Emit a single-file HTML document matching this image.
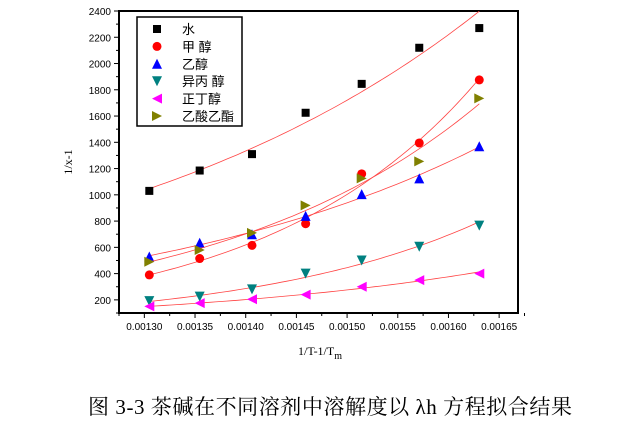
<!DOCTYPE html>
<html><head><meta charset="utf-8"><style>
body{margin:0;background:#fff;width:633px;height:425px;overflow:hidden}
svg{display:block;font-family:"Liberation Sans",sans-serif}
</style></head><body>
<svg id="c" width="633" height="425">
<g id="plot"></g>
<text x="72" y="162" transform="rotate(-90 72 162)" text-anchor="middle" font-family="Liberation Serif,serif" font-size="12">1/x-1</text>
<text x="298" y="355" font-family="Liberation Serif,serif" font-size="12">1/T-1/T<tspan font-size="10" dy="4">m</tspan></text>
<text x="88" y="414" textLength="484" lengthAdjust="spacing" font-family="'Liberation Serif','Noto Serif CJK SC',serif" font-size="21">图 3-3 茶碱在不同溶剂中溶解度以 λh 方程拟合结果</text>
</svg>
<script>
const xs=[0.0013049,0.0013546,0.0014062,0.0014591,0.0015144,0.0015712,0.0016304];
const water=[1030,1185,1310,1625,1845,2120,2270];
const methanol=[390,515,615,780,1160,1395,1875];
const ethanol=[530,635,700,840,1005,1125,1370];
const isopropanol=[190,225,280,400,500,605,765];
const butanol=[150,175,205,240,300,350,400];
const ethylAcetate=[490,580,710,920,1125,1255,1735];
const yTicks=[200,400,600,800,1000,1200,1400,1600,1800,2000,2200,2400];
const xTicks=["0.00130","0.00135","0.00140","0.00145","0.00150","0.00155","0.00160","0.00165"];
const names=["水","甲  醇","乙醇","异丙 醇","正丁醇","乙酸乙酯"];

const L=119,R=518,T=11,B=313,xmin=0.001275,xmax=0.0016686,ymin=100,ymax=2400;
const X=v=>L+(v-xmin)/(xmax-xmin)*(R-L);
const Y=v=>B-(v-ymin)/(ymax-ymin)*(B-T);
const NS="http://www.w3.org/2000/svg";
const g=document.getElementById('plot');
function el(t,a,p){const e=document.createElementNS(NS,t);for(const k in a)e.setAttribute(k,a[k]);(p||g).appendChild(e);return e;}
let e=el('rect',{x:L,y:T,width:R-L,height:B-T,fill:'none',stroke:'#000','stroke-width':2});

yTicks.forEach(v=>{const y=Y(v);el('line',{x1:L-5,x2:L,y1:y,y2:y,stroke:'#000'});
el('line',{x1:L-3,x2:L,y1:Y(v-100),y2:Y(v-100),stroke:'#000'});
const t=el('text',{x:L-8,y:y+4,'text-anchor':'end','font-size':10});t.textContent=v;
});
xTicks.forEach(s=>{const v=parseFloat(s),x=X(v);el('line',{x1:x,x2:x,y1:B,y2:B+5,stroke:'#000'});
el('line',{x1:X(v-0.000025),x2:X(v-0.000025),y1:B,y2:B+3,stroke:'#000'});
const t=el('text',{x:x,y:B+17,'text-anchor':'middle','font-size':10});t.textContent=s;
});
el('line',{x1:X(0.001675),x2:X(0.001675),y1:B,y2:B+3,stroke:'#000'});
function fit(ys){ // exponential least squares in log space
 const n=xs.length,u=xs.map(x=>(x-0.00146)*1e4),l=ys.map(Math.log);
 const mu=u.reduce((a,b)=>a+b)/n,ml=l.reduce((a,b)=>a+b)/n;
 let sxy=0,sxx=0;u.forEach((x,i)=>{sxy+=(x-mu)*(l[i]-ml);sxx+=(x-mu)**2;});
 const b=sxy/sxx,a=ml-b*mu;
 return x=>Math.exp(a+b*(x-0.00146)*1e4);
}
const series=[[water,'#000','sq'],[methanol,'#f00','ci'],[ethanol,'#00f','up'],[isopropanol,'#008080','dn'],[butanol,'#f0f','lf'],[ethylAcetate,'#808000','rt']];
function mark(type,x,y,c,name){let m;const s=5;
 if(type=='sq')m=el('rect',{x:x-4,y:y-4,width:8,height:8,fill:c});
 else if(type=='ci')m=el('circle',{cx:x,cy:y,r:4.5,fill:c});
 else{const p={up:[[0,-s],[s,s],[-s,s]],dn:[[0,s],[s,-s],[-s,-s]],lf:[[-s,0],[s,-s],[s,s]],rt:[[s,0],[-s,-s],[-s,s]]}[type];
 m=el('polygon',{points:p.map(q=>(x+q[0])+','+(y+q[1])).join(' '),fill:c});}
 }
series.forEach(([ys,c,t],si)=>{const f=fit(ys);let d='';
 for(let i=0;i<=60;i++){const x=xs[0]+(xs[6]-xs[0])*i/60;d+=(i?'L':'M')+X(x).toFixed(1)+','+Y(f(x)).toFixed(1);}
 const p=el('path',{d:d,fill:'none',stroke:'#f44','stroke-width':0.8});
 
 ys.forEach((v,i)=>mark(t,X(xs[i]),Y(v),c,'data-point'));});
const lg=el('g',{});
el('rect',{x:137,y:17,width:105,height:109,fill:'#fff',stroke:'#000','stroke-width':1.5},lg);
series.forEach(([ys,c,t],i)=>{const y=29+i*17.4;mark(t,157,y,c,'legend-marker');
 const tx=el('text',{x:182,y:y+5,'font-size':13,'font-family':"'Liberation Sans','Noto Sans CJK SC',sans-serif"},lg);tx.textContent=names[i];
 });
</script>
</body></html>
